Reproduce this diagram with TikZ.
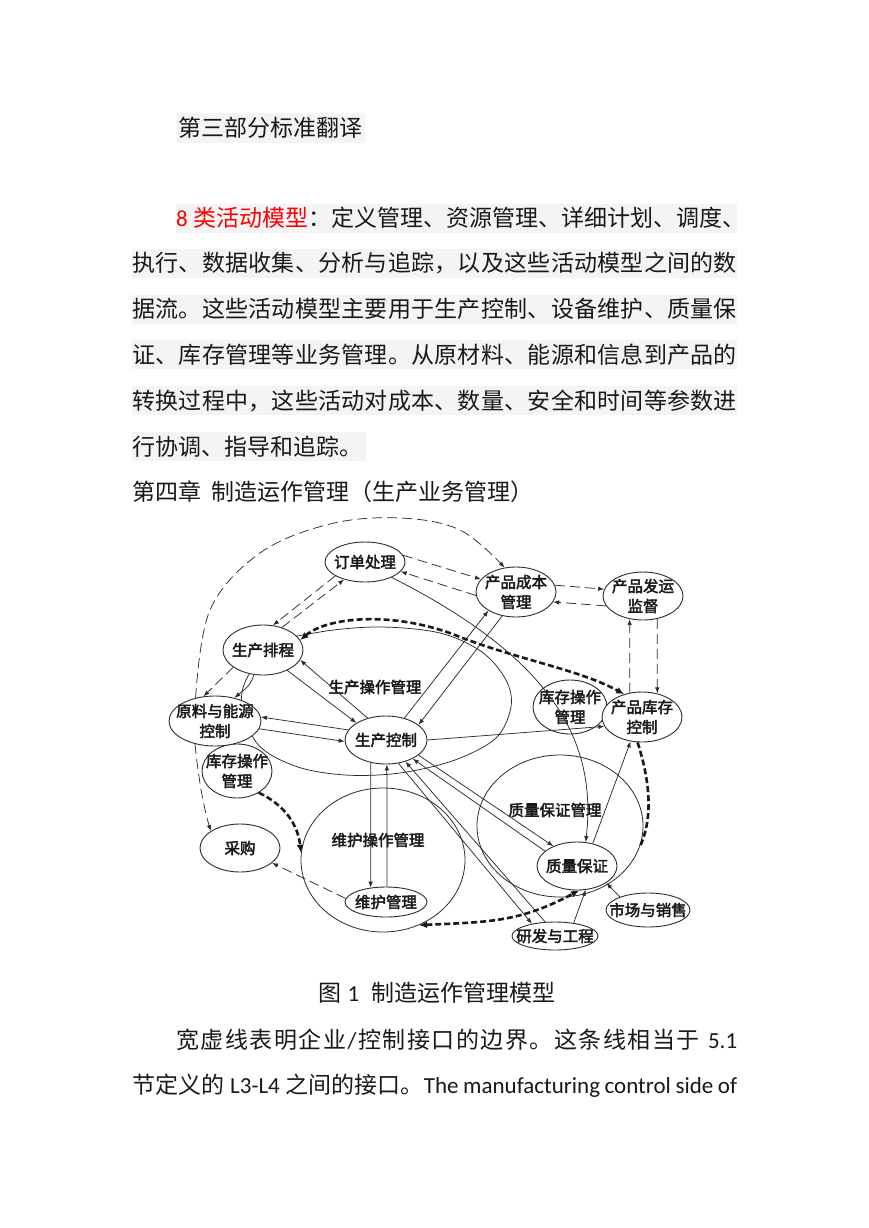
\documentclass[tikz,border=0pt]{standalone}
\usepackage{fontspec}
\setmainfont{Noto Sans CJK SC}
\newfontfamily\lat{Carlito}
\newfontfamily\cjkb[FakeBold=2.5]{Noto Sans CJK SC}
\usetikzlibrary{shapes.geometric,arrows.meta}
\definecolor{band}{RGB}{243,244,246}
\definecolor{ink}{RGB}{25,25,25}
\definecolor{lineink}{RGB}{45,45,45}
\def\spr#1{\ifx\relax#1\else#1\hskip0pt plus 1fil\expandafter\spr\fi}
\newcommand\enode[5]{%
  \node[nd, minimum width=#3pt, minimum height=#4pt] (#1) at (#2) {};
  \node[lbl, align=center] (#1-t) at (#1) {#5};}
\begin{document}
\begin{tikzpicture}[x=1pt,y=-1pt,
  body/.style={anchor=west, inner sep=0pt, font=\fontsize{23}{28}\selectfont, text=ink},
  nd/.style={ellipse, draw=lineink, line width=0.9pt, fill=white, inner sep=0pt},
  lbl/.style={inner sep=0pt, font=\cjkb\fontsize{15.5}{20}\selectfont, text=ink},
  region/.style={ellipse, draw=lineink, line width=0.8pt, inner sep=0pt},
  con/.style={draw=lineink, line width=0.75pt},
  tip/.style={-{Latex[length=6pt,width=4.5pt]}},
  dsh/.style={dash pattern=on 10pt off 5pt},
  bnd/.style={draw=ink, line width=2.6pt, dash pattern=on 6pt off 3pt},
  btip/.style={-{Latex[length=8pt,width=7pt]}},
  bboth/.style={{Latex[length=8pt,width=7pt]}-{Latex[length=8pt,width=7pt]}}
]
\fill[white] (0,0) rectangle (869,1228);
\path[use as bounding box] (0,0) rectangle (869,1228);

% ---------- text above ----------
\fill[band] (177,113) rectangle (365,143);
\node[body] (t0) at (178,128) {第三部分标准翻译};

\fill[band] (176,204) rectangle (737,233);
\fill[band] (132,249) rectangle (737,278);
\fill[band] (132,295) rectangle (737,324);
\fill[band] (132,340) rectangle (737,369);
\fill[band] (132,386) rectangle (737,415);
\fill[band] (132,432) rectangle (366,461);
\node[body] (p1) at (176,218) {\makebox[561pt][s]{{\color{red}{\lat 8}\hspace{6pt}类活动模型}：定义管理、资源管理、详细计划、调度、}};
\node[body] (p2) at (132,263) {\makebox[605pt][s]{\spr 执行、数据收集、分析与追踪，以及这些活动模型之间的数\relax}};
\node[body] (p3) at (132,309) {\makebox[605pt][s]{\spr 据流。这些活动模型主要用于生产控制、设备维护、质量保\relax}};
\node[body] (p4) at (132,355) {\makebox[605pt][s]{\spr 证、库存管理等业务管理。从原材料、能源和信息到产品的\relax}};
\node[body] (p5) at (132,401) {\makebox[605pt][s]{\spr 转换过程中，这些活动对成本、数量、安全和时间等参数进\relax}};
\node[body] (p6) at (132,447) {行协调、指导和追踪。};
\node[body] (ch) at (132,492) {第四章\hspace{10pt}制造运作管理（生产业务管理）};

% ---------- diagram: regions ----------
\draw[con] plot[smooth cycle, tension=0.55] coordinates {(242,692) (272,646) (320,632) (380,627) (440,633) (482,652) (506,680) (511,707) (496,738) (455,760) (400,773) (345,775) (295,766) (256,742)};
\node[region, minimum width=164pt, minimum height=144pt] (mc) at (383,860) {};
\node[region, minimum width=166pt, minimum height=142pt] (qam) at (560,826) {};
\node[lbl] (lpo) at (375,687) {生产操作管理};
\node[lbl] (lmo) at (378,840) {维护操作管理};
\node[lbl] (lqm) at (555,810) {质量保证管理};

% ---------- nodes ----------
\enode{order}{365,562}{80}{40}{订单处理}
\enode{cost}{516,592}{80}{50}{产品成本\\管理}
\enode{ship}{643,596}{80}{48}{产品发运\\监督}
\enode{sched}{263,650}{80}{50}{生产排程}
\enode{invL}{237,771}{70}{54}{库存操作\\管理}
\enode{raw}{215,721}{92}{50}{原料与能源\\控制}
\enode{buy}{240,848}{80}{48}{采购}
\enode{pc}{386,740}{82}{48}{生产控制}
\enode{maint}{386,902}{82}{30}{维护管理}
\enode{invR}{570,707}{74}{54}{库存操作\\管理}
\enode{pinv}{642,717}{80}{50}{产品库存\\控制}
\enode{qa}{577,866}{80}{48}{质量保证}
\enode{mkt}{648,910}{84}{34}{市场与销售}
\enode{rd}{555,936}{86}{28}{研发与工程}

% ---------- connectors ----------
\draw[con,dsh,tip] plot[smooth, tension=0.6] coordinates {(raw.130) (210,610) (260,553) (330,524) (400,518) (460,530) (cost.115)};
\draw[con,dsh,tip] (raw.229) .. controls (198,775) and (203,805) .. (buy.150);
\draw[con,dsh,tip] (order.10) -- (cost.160);
\draw[con,dsh,tip] (cost.185) -- (order.-15);
\draw[con,dsh,tip] (sched.50) -- (order.220);
\draw[con,dsh,tip] (order.205) -- (sched.68);
\draw[con,dsh,tip] (sched.210) -- (raw.115);
\draw[con,tip] (sched.250) .. controls (250,685) .. (raw.50);
\draw[con,tip] (order.-30) .. controls (545,655) and (598,735) .. (qa.70);
\draw[con,tip] (pc.0) -- (pinv.194);
\draw[con,tip] (pc.50) -- (cost.214);
\draw[con,tip] (cost.240) -- (pc.25);
\draw[con,tip] (sched.-40) -- (pc.150);
\draw[con,tip] (pc.130) -- (sched.-15);
\draw[con,tip] (pc.165) -- (raw.5);
\draw[con,tip] (raw.-10) -- (pc.182);
\draw[con,tip] (pc.236) -- (maint.137);
\draw[con,tip] (maint.86) -- (pc.272);
\draw[con,tip] (pc.-25) -- (qa.140);
\draw[con,tip] (qa.155) -- (pc.-35);
\draw[con,tip] (pc.-62) -- (rd.152);
\draw[con,tip] (rd.125) -- (pc.-48);
\draw[con,tip] (qa.55) -- (pinv.-115);
\draw[con,tip] (mkt.155) -- (qa.-30);
\draw[con,tip] (rd.35) -- (qa.-70);
\draw[con,dsh,tip] (cost.10) -- (ship.170);
\draw[con,dsh,tip] (ship.195) -- (cost.-15);
\draw[con,dsh,tip] (pinv.117) -- (ship.240);
\draw[con,dsh,tip] (ship.302) -- (pinv.57);
\draw[con,dsh,tip] (maint.175) -- (buy.-25);

% ---------- thick boundary ----------
\draw[bnd,bboth] (sched.15) .. controls (330,615) and (400,612) .. (460,637) .. controls (520,660) and (580,670) .. (pinv.128);
\draw[bnd] (pinv.-100) .. controls (648,775) and (655,815) .. (qam.-15);
\draw[bnd,bboth] (mc.-61) .. controls (490,922) and (520,922) .. (qa.-85);
\draw[bnd,btip] (invL.-45) .. controls (285,805) and (298,825) .. (mc.175);

% ---------- text below ----------
\node[body, anchor=center] (cap) at (437,993) {图\hspace{6pt}{\lat 1}\hspace{12pt}制造运作管理模型};
\node[body] (q1) at (176,1040) {\makebox[561pt][s]{\spr 宽虚线表明企业\relax{\lat /}\hskip0pt plus 1fil\spr 控制接口的边界。这条线相当于\relax\hspace{7pt}{\lat 5.1}}};
\node[body] (q2) at (132,1086) {\makebox[605pt][s]{节定义的\hspace{6pt}{\lat L3-L4}\hspace{6pt}之间的接口。{\lat The manufacturing control side of}}};
\end{tikzpicture}
\end{document}
